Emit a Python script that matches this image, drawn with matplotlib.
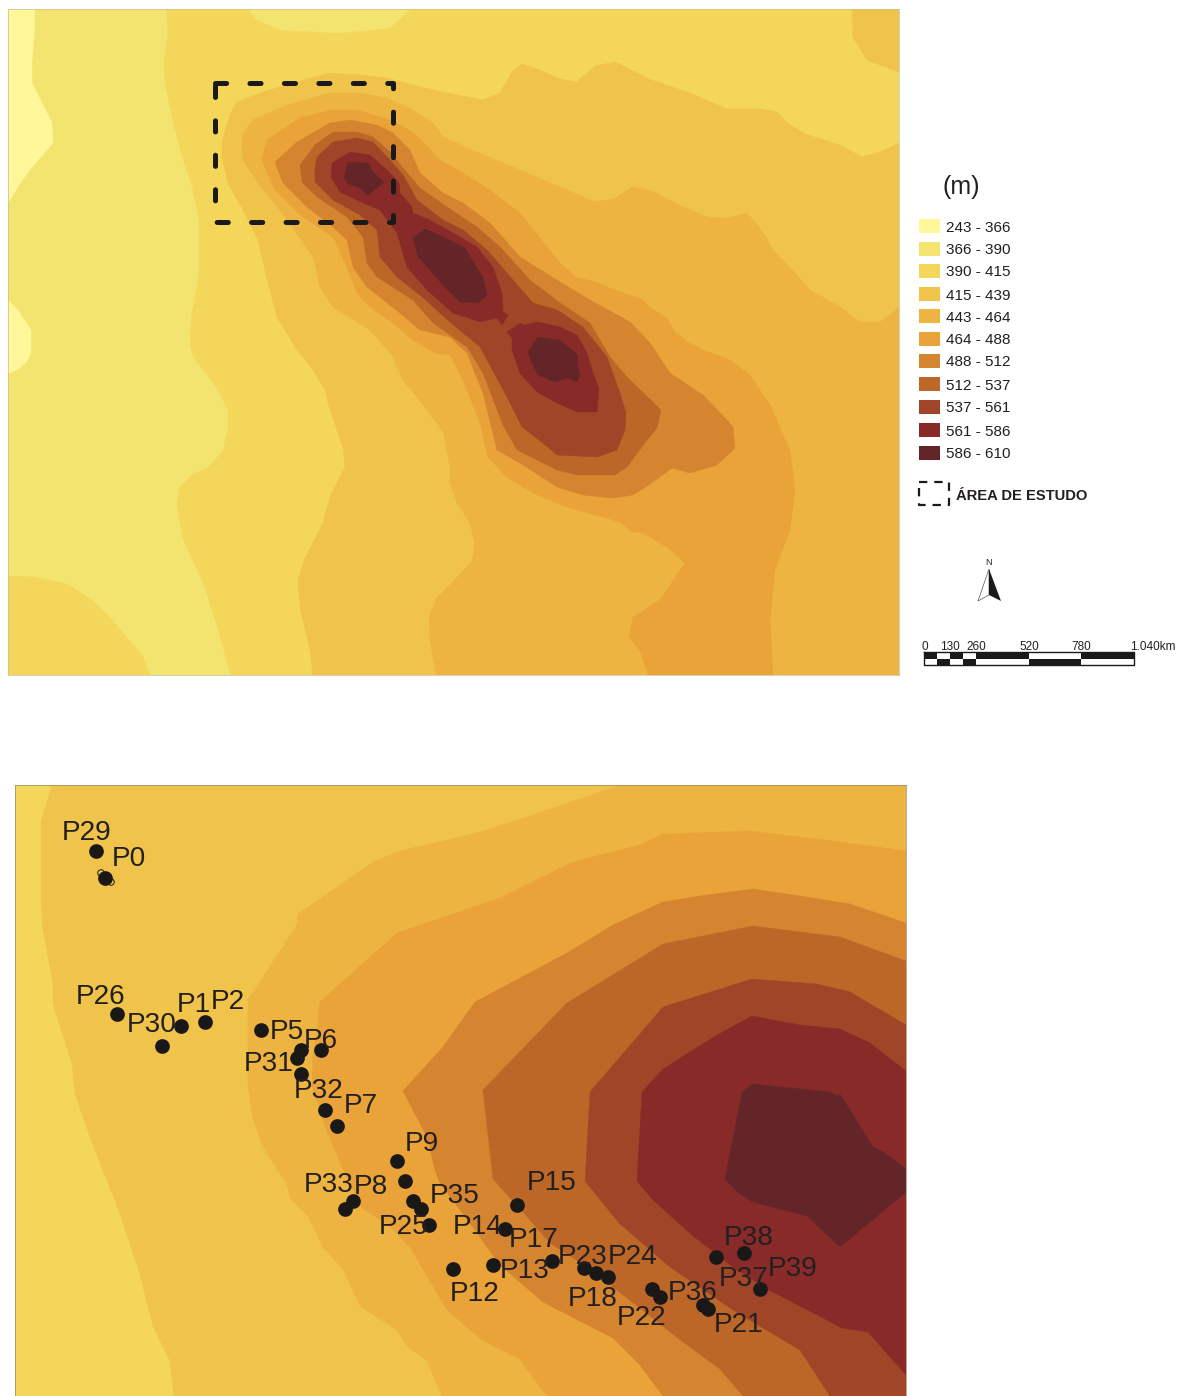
import matplotlib
matplotlib.use('Agg')
import matplotlib.pyplot as plt

plt.rcParams['font.family'] = ['Liberation Sans', 'DejaVu Sans']
plt.rcParams['lines.scale_dashes'] = False

W, H = 1185, 1396
TEXT = '#231F20'

# legend
ranges = ['243 - 366', '366 - 390', '390 - 415', '415 - 439', '443 - 464', '464 - 488',
          '488 - 512', '512 - 537', '537 - 561', '561 - 586', '586 - 610']
colors = ['#FFF799', '#F3E36F', '#F4D65A', '#F0C34B', '#EDB442', '#E9A338',
          '#D58430', '#BC6727', '#A04527', '#882B28', '#642528']
legend_y = [226, 249, 271, 294, 316, 339, 361, 384, 407, 430, 453]

# top map, all outlines read in pixels of the reference
top_extent = (8, 899, 675, 9)
top_base = 1
t_243a = [(8, 9), (35, 9), (34, 39), (32, 61), (32, 83), (52, 123), (53, 143), (33, 166), (23, 179), (8, 203)]
t_243b = [(8, 300), (17, 309), (31, 330), (31, 352), (27, 362), (17, 370), (8, 374)]
t_390 = [(167, 9), (168, 35), (164, 63), (166, 87), (173, 121), (182, 156), (192, 186), (199, 218), (199, 276),
         (192, 313), (190, 341), (193, 356), (217, 388), (228, 410), (228, 429), (223, 451), (208, 468), (193, 474),
         (180, 487), (177, 505), (183, 539), (203, 582), (217, 625), (223, 647), (231, 675), (899, 675), (899, 9)]
t_390b = [(8, 576), (33, 577), (67, 584), (93, 601), (113, 621), (133, 645), (142, 655), (150, 675), (8, 675)]
t_366 = [(248, 9), (257, 20), (280, 30), (340, 33), (390, 28), (411, 9)]
t_415 = [(222, 140), (232, 110), (237, 102), (263, 92), (297, 82), (330, 73), (360, 75), (387, 78), (413, 85),
         (443, 92), (483, 100), (500, 93), (512, 72), (522, 64), (540, 70), (560, 79), (577, 82), (595, 66), (615, 62),
         (652, 80), (690, 93), (727, 109), (760, 109), (777, 112), (787, 123), (805, 134), (840, 145), (862, 157),
         (880, 152), (899, 143), (899, 675), (313, 675), (310, 650), (300, 607), (298, 580), (305, 558), (323, 523),
         (330, 497), (345, 467), (343, 448), (328, 403), (325, 390), (313, 370), (297, 350), (277, 317), (268, 283),
         (258, 240), (243, 210), (228, 183), (222, 157)]
t_415b = [(852, 9), (853, 37), (867, 60), (899, 72), (899, 9)]
t_443 = [(242, 147), (243, 133), (253, 120), (287, 105), (330, 93), (360, 93), (387, 98), (413, 110), (433, 123),
         (443, 137), (477, 152), (520, 170), (560, 187), (595, 202), (613, 199), (633, 187), (652, 191), (677, 204),
         (707, 217), (727, 218), (747, 213), (763, 232), (773, 250), (797, 275), (810, 290), (840, 307), (860, 322),
         (880, 322), (899, 308), (899, 675), (436, 675), (430, 640), (429, 617), (437, 598), (472, 562), (475, 543),
         (470, 523), (457, 503), (450, 483), (450, 467), (443, 432), (417, 397), (403, 380), (392, 355), (370, 330),
         (333, 307), (320, 287), (313, 257), (287, 220), (280, 210), (258, 183), (243, 160)]
t_464 = [(262, 160), (267, 140), (300, 118), (330, 110), (357, 110), (390, 120), (413, 132), (440, 160), (463, 173),
         (490, 190), (520, 213), (560, 263), (577, 278), (593, 281), (610, 288), (643, 300), (650, 308), (667, 318),
         (675, 332), (687, 342), (703, 350), (730, 360), (750, 375), (770, 405), (790, 450), (795, 490), (790, 530),
         (775, 570), (770, 620), (773, 675), (648, 675), (640, 650), (629, 637), (633, 617), (660, 600), (685, 563),
         (667, 547), (643, 533), (632, 532), (620, 522), (567, 507), (533, 493), (507, 477), (488, 457), (480, 423),
         (463, 380), (450, 355), (435, 353), (413, 340), (393, 323), (370, 307), (357, 293), (347, 267), (333, 237),
         (300, 215), (275, 190)]
t_488 = [(275, 162), (297, 142), (330, 123), (350, 120), (377, 125), (393, 133), (410, 150), (420, 173), (443, 193),
         (463, 203), (490, 223), (520, 257), (560, 282), (590, 300), (630, 322), (650, 343), (670, 373), (703, 395),
         (727, 420), (733, 427), (735, 448), (717, 465), (690, 473), (672, 468), (653, 482), (633, 495), (613, 498),
         (583, 495), (557, 487), (520, 463), (497, 450), (483, 393), (467, 353), (450, 337), (420, 330), (400, 313),
         (367, 287), (353, 267), (347, 240), (333, 227), (307, 207), (283, 183)]
t_512 = [(300, 165), (315, 145), (333, 132), (357, 132), (373, 137), (390, 152), (403, 168), (420, 188), (447, 207),
         (477, 227), (500, 247), (530, 280), (560, 303), (590, 323), (610, 357), (627, 377), (661, 410), (657, 428),
         (647, 440), (627, 467), (615, 475), (577, 475), (557, 470), (517, 450), (503, 425), (483, 373), (467, 347),
         (433, 323), (413, 300), (377, 277), (367, 263), (363, 237), (347, 217), (317, 197), (302, 182)]
t_537 = [(315, 168), (317, 157), (333, 142), (357, 138), (373, 142), (390, 160), (403, 175), (417, 200), (443, 220),
         (463, 230), (487, 250), (513, 280), (533, 303), (557, 310), (583, 327), (607, 357), (620, 393), (626, 413),
         (625, 430), (617, 450), (597, 457), (557, 455), (543, 443), (522, 427), (507, 397), (480, 347), (450, 322),
         (420, 295), (397, 277), (380, 257), (377, 230), (360, 215), (333, 200), (315, 182)]
t_561a = [(332, 163), (350, 152), (370, 155), (387, 170), (399, 183), (400, 193), (412, 207), (413, 213), (430, 220),
          (453, 233), (477, 247), (493, 267), (502, 293), (503, 312), (508, 315), (502, 325), (497, 318), (480, 322),
          (453, 313), (427, 290), (407, 267), (397, 233), (380, 210), (363, 203), (340, 192), (331, 177)]
t_561b = [(507, 332), (520, 323), (525, 325), (538, 322), (560, 327), (577, 335), (587, 353), (593, 373), (599, 388),
          (597, 412), (577, 412), (557, 403), (537, 392), (520, 373), (512, 350), (512, 338)]
t_586a = [(344, 177), (348, 162), (368, 163), (373, 172), (384, 182), (368, 195), (360, 188), (347, 183)]
t_586b = [(413, 238), (425, 229), (443, 237), (465, 248), (475, 265), (483, 277), (487, 295), (478, 303), (460, 302),
          (443, 285), (430, 270), (418, 257)]
t_586c = [(528, 352), (538, 337), (560, 340), (578, 355), (577, 365), (580, 373), (577, 382), (567, 378), (555, 382),
          (538, 375), (532, 363)]
top_zones = [(0, t_243a), (0, t_243b), (2, t_390), (2, t_390b), (1, t_366), (3, t_415), (3, t_415b), (4, t_443),
             (5, t_464), (6, t_488), (7, t_512), (8, t_537), (9, t_561a), (9, t_561b), (10, t_586a), (10, t_586b),
             (10, t_586c)]
study_x = [215, 393, 393, 215, 215]
study_y = [83, 83, 222, 222, 83]

# bottom map
bottom_extent = (15, 906, 1396, 785)
bottom_base = 2
b_415 = [(52, 785), (41, 821), (41, 902), (43, 929), (53, 984), (53, 1004), (72, 1063), (75, 1094), (93, 1145),
         (118, 1208), (138, 1267), (153, 1326), (170, 1361), (174, 1396), (906, 1396), (906, 785)]
b_443 = [(620, 785), (533, 815), (477, 833), (400, 851), (373, 862), (307, 908), (298, 914), (297, 925), (248, 1000),
         (248, 1086), (253, 1118), (262, 1145), (287, 1185), (290, 1198), (308, 1216), (323, 1247), (343, 1269),
         (360, 1306), (397, 1330), (407, 1346), (427, 1361), (442, 1396), (906, 1396), (906, 785)]
b_464 = [(906, 851), (833, 841), (750, 831), (663, 834), (640, 845), (573, 862), (500, 898), (397, 933), (320, 1002),
         (317, 1031), (313, 1055), (312, 1086), (325, 1126), (343, 1169), (362, 1208), (387, 1224), (410, 1247),
         (447, 1310), (480, 1338), (493, 1346), (520, 1359), (543, 1391), (548, 1396), (906, 1396)]
b_488 = [(906, 923), (850, 904), (800, 896), (753, 889), (700, 896), (663, 902), (613, 925), (567, 953), (475, 1002),
         (443, 1047), (403, 1091), (427, 1137), (435, 1170), (440, 1183), (480, 1237), (500, 1265), (543, 1302),
         (613, 1338), (640, 1365), (663, 1396), (906, 1396)]
b_512 = [(906, 961), (840, 937), (753, 926), (663, 944), (567, 1003), (483, 1090), (487, 1126), (493, 1179), (523, 1212),
         (550, 1243), (587, 1267), (627, 1298), (683, 1342), (720, 1369), (743, 1396), (906, 1396)]
b_537 = [(906, 1025), (850, 992), (817, 984), (752, 979), (663, 1007), (590, 1092), (585, 1181), (620, 1224),
         (670, 1267), (733, 1310), (800, 1350), (830, 1396), (906, 1396)]
b_561 = [(906, 1071), (870, 1043), (840, 1029), (800, 1025), (752, 1016), (717, 1035), (663, 1069), (642, 1092),
         (637, 1181), (653, 1200), (693, 1236), (733, 1267), (767, 1289), (800, 1306), (842, 1328), (868, 1332),
         (906, 1375)]
b_586 = [(742, 1092), (753, 1084), (830, 1092), (837, 1096), (840, 1094), (873, 1147), (882, 1151), (906, 1169),
         (906, 1192), (840, 1247), (807, 1216), (753, 1202), (737, 1192), (725, 1179)]
bottom_zones = [(3, b_415), (4, b_443), (5, b_464), (6, b_488), (7, b_512), (8, b_537), (9, b_561), (10, b_586)]

point_x = [96, 105, 117, 162, 181, 205, 261, 301, 297, 321, 301, 325, 337, 397, 405, 413, 421, 429, 353, 345,
           517, 505, 453, 493, 552, 584, 596, 608, 652, 660, 703, 708, 716, 744, 760]
point_y = [851, 878, 1014, 1046, 1026, 1022, 1030, 1050, 1058, 1050, 1074, 1110, 1126, 1161, 1181, 1201, 1209,
           1225, 1201, 1209, 1205, 1229, 1269, 1265, 1261, 1268, 1273, 1277, 1289, 1297, 1305, 1309, 1257, 1253, 1289]
# overlapped points of the P0 group, only their rims show
ring_x = [101, 111]
ring_y = [873, 882]
label_names = ['P29', 'P0', 'P26', 'P30', 'P1', 'P2', 'P5', 'P6', 'P31', 'P32', 'P7', 'P9', 'P33', 'P8', 'P25', 'P35',
               'P14', 'P15', 'P17', 'P13', 'P12', 'P23', 'P24', 'P18', 'P22', 'P36', 'P21', 'P37', 'P38', 'P39']
label_x = [62, 112, 76, 127, 177, 211, 270, 304, 244, 294, 344, 405, 304, 354, 379, 430,
           453, 527, 509, 500, 450, 558, 608, 568, 617, 668, 714, 719, 724, 768]
label_y = [840, 866, 1004, 1032, 1012, 1009, 1039, 1048, 1071, 1098, 1113, 1151, 1192, 1194, 1234, 1203,
           1234, 1190, 1247, 1278, 1301, 1264, 1264, 1306, 1325, 1300, 1332, 1286, 1245, 1276]

# scale bar
scale_edges = [924, 937, 950, 963, 976, 1029, 1081, 1134]
scale_labels = ['0', '130', '260', '520', '780']
scale_label_x = [925, 950, 976, 1029, 1081]


def add_map(fig, extent, base, zones, frame):
    x0, x1, y1, y0 = extent
    ax = fig.add_axes([x0 / W, 1 - y1 / H, (x1 - x0) / W, (y1 - y0) / H])
    ax.set_xlim(x0, x1)
    ax.set_ylim(y1, y0)
    ax.set_facecolor(colors[base])
    ax.set_xticks([])
    ax.set_yticks([])
    for zone, outline in zones:
        xs, ys = zip(*outline)
        ax.fill(xs, ys, color=colors[zone], lw=0.3, zorder=2)
    for s in ax.spines.values():
        s.set_linewidth(0.5)
        s.set_color(frame)
    return ax


fig = plt.figure(figsize=(W / 100, H / 100), dpi=100)

ax_top = add_map(fig, top_extent, top_base, top_zones, '#C8BE90')
ax_top.plot(study_x, study_y, color='#1A1A1A', lw=3.6, ls=(0, (8, 16.8)), dash_capstyle='round', zorder=5)

ax_bottom = add_map(fig, bottom_extent, bottom_base, bottom_zones, '#8F8A6A')
ax_bottom.spines['bottom'].set_visible(False)
ax_bottom.scatter(point_x, point_y, s=112, color='#1A1717', lw=0, zorder=5)
ax_bottom.scatter(ring_x, ring_y, s=22, facecolor='none', edgecolor='#1A1717', lw=0.7, zorder=5)
for name, lx, ly in zip(label_names, label_x, label_y):
    ax_bottom.text(lx, ly, name, fontsize=20.2, color=TEXT, ha='left', va='baseline', zorder=6)

# side panel shares the reference pixel scale
ax_side = fig.add_axes([0, 0, 1, 1], zorder=-1)
ax_side.set_xlim(0, W)
ax_side.set_ylim(H, 0)
ax_side.axis('off')

ax_side.text(943, 194, '(m)', fontsize=18, color=TEXT, va='baseline')
for c, label, y in zip(colors, ranges, legend_y):
    ax_side.fill([919, 940, 940, 919], [y - 7, y - 7, y + 7, y + 7], color=c, lw=0)
    ax_side.text(946, y + 5.5, label, fontsize=11, color=TEXT, va='baseline')

ax_side.plot([919, 949, 949, 919, 919], [482, 482, 505, 505, 482], color='#1A1A1A', lw=1.6,
             ls=(0, (6, 5)))
ax_side.text(956, 499.5, 'ÁREA DE ESTUDO', fontsize=10.6, fontweight='bold', color=TEXT, va='baseline')

# north arrow
ax_side.text(989, 565, 'N', fontsize=6.5, color=TEXT, ha='center', va='baseline')
ax_side.fill([989, 978, 989], [569, 601, 595], facecolor='white', edgecolor='#555555', lw=0.5)
ax_side.fill([989, 1001, 989], [569, 601, 595], color='#1A1A1A', lw=0)

# scale bar, two rows with alternating blocks
for i in range(len(scale_edges) - 1):
    a, b = scale_edges[i], scale_edges[i + 1]
    top_color = '#1A1A1A' if i % 2 == 0 else 'white'
    low_color = 'white' if i % 2 == 0 else '#1A1A1A'
    ax_side.fill([a, b, b, a], [652, 652, 658.5, 658.5], color=top_color, lw=0)
    ax_side.fill([a, b, b, a], [658.5, 658.5, 665, 665], color=low_color, lw=0)
ax_side.plot([924, 1134, 1134, 924, 924], [652, 652, 665, 665, 652], color='#1A1A1A', lw=1)
for label, x in zip(scale_labels, scale_label_x):
    ax_side.text(x, 649.5, label, fontsize=8.5, color=TEXT, ha='center', va='baseline')
ax_side.text(1130, 649.5, '1.040km', fontsize=8.5, color=TEXT, ha='left', va='baseline')

fig.savefig('out.png', dpi=100, facecolor='white')
